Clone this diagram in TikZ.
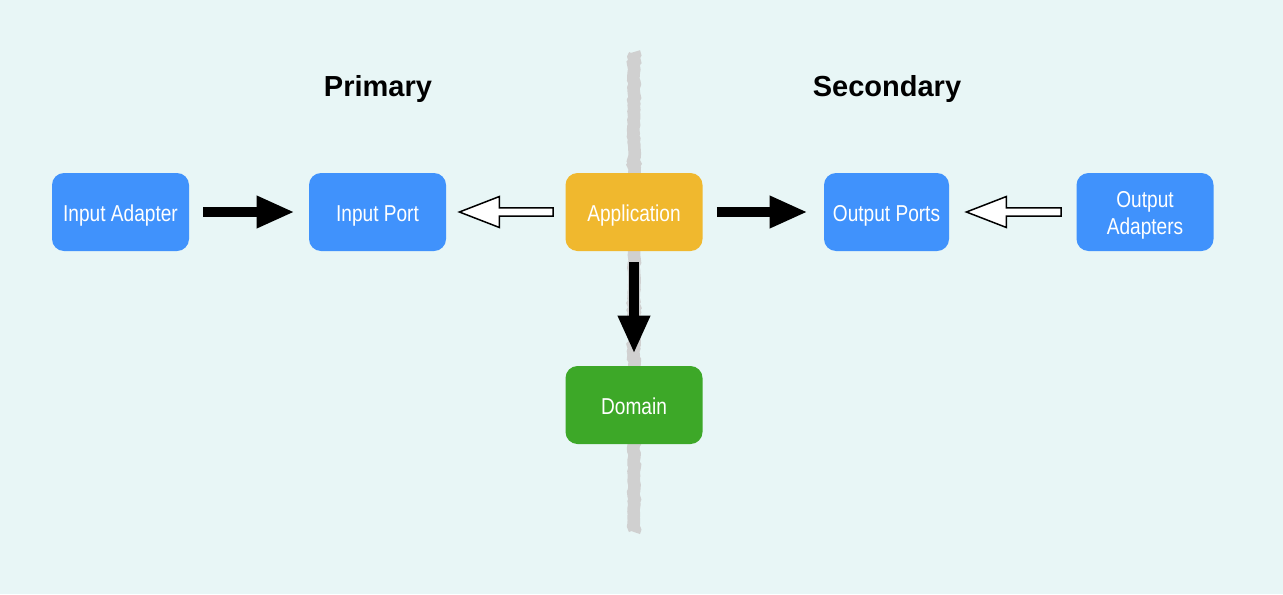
\documentclass[tikz,border=0pt]{standalone}
\usepackage{fontspec}
\usetikzlibrary{arrows.meta,calc,decorations.pathmorphing}
\newfontfamily\boxfont[FakeStretch=0.83]{Liberation Sans}
\newfontfamily\headfont{Liberation Sans}
\definecolor{bgcyan}{RGB}{232,246,246}
\definecolor{portblue}{RGB}{64,146,252}
\definecolor{appyellow}{RGB}{240,184,46}
\definecolor{domgreen}{RGB}{61,168,40}
\definecolor{divgray}{RGB}{208,208,208}
\begin{document}
\begin{tikzpicture}[x=0.5pt,y=-0.5pt,
  box/.style={shape=rectangle,rounded corners=6pt,minimum width=68.5pt,minimum height=39pt,inner sep=0pt,text=white,font=\boxfont\fontsize{11.5}{13.5}\selectfont,align=center,text height=9pt,text depth=0pt},
  port/.style={box,fill=portblue},
  head/.style={anchor=base,font=\headfont\bfseries\fontsize{14.5}{16}\selectfont},
  thickarrow/.style={line width=5pt,-{Triangle[length=19pt,width=15pt]}},
  hollow/.style={draw=black,line width=0.75pt,fill=white,
    to path={let \p1=(\tikztostart), \p2=(\tikztotarget) in
      (\x1,\y1+2.1pt) -- (\x2+20pt,\y1+2.1pt) -- (\x2+20pt,\y1+7.75pt) -- (\x2,\y1)
      -- (\x2+20pt,\y1-7.75pt) -- (\x2+20pt,\y1-2.1pt) -- (\x1,\y1-2.1pt) -- cycle}}]
\def\yrow{212};
\def\ydom{405};

\fill[bgcyan] (0,0) rectangle (1283,594);
\useasboundingbox (0,0) rectangle (1283,594);

%DIVIDER
\coordinate (divtop) at (634,52);
\coordinate (divbot) at (634,532);
\draw[divgray,line width=6.3pt,decorate,decoration={random steps,segment length=1.5pt,amplitude=0.45pt}] (divtop) -- (divbot);

\node[head] (prim) at (378,96.7) {Primary};
\node[head] (sec) at (887,96.7) {Secondary};

\node[port] (inadapt) at (120.5,\yrow) {Input Adapter};
\node[port] (inport) at (377.5,\yrow) {Input Port};
\node[box,fill=appyellow] (app) at (634,\yrow) {Application};
\node[port,minimum width=62.5pt] (outport) at (886.5,\yrow) {Output Ports};
\node[port,text height=22pt] (outadapt) at (1145,\yrow) {Output\\Adapters};
\node[box,fill=domgreen] (dom) at (634,\ydom) {Domain};

\draw[thickarrow,shorten <=7pt,shorten >=7pt] (inadapt) -- (inport);
\draw[thickarrow,shorten <=7pt,shorten >=8pt] (app) -- (outport);
\draw[thickarrow,shorten <=5.5pt,shorten >=6pt] (app) -- (dom);
%HOLLOW
\draw[hollow] ([xshift=-6pt]app.west) to ([xshift=6.5pt]inport.east);
\draw[hollow] ([xshift=-7.5pt]outadapt.west) to ([xshift=8.5pt]outport.east);
\end{tikzpicture}
\end{document}
